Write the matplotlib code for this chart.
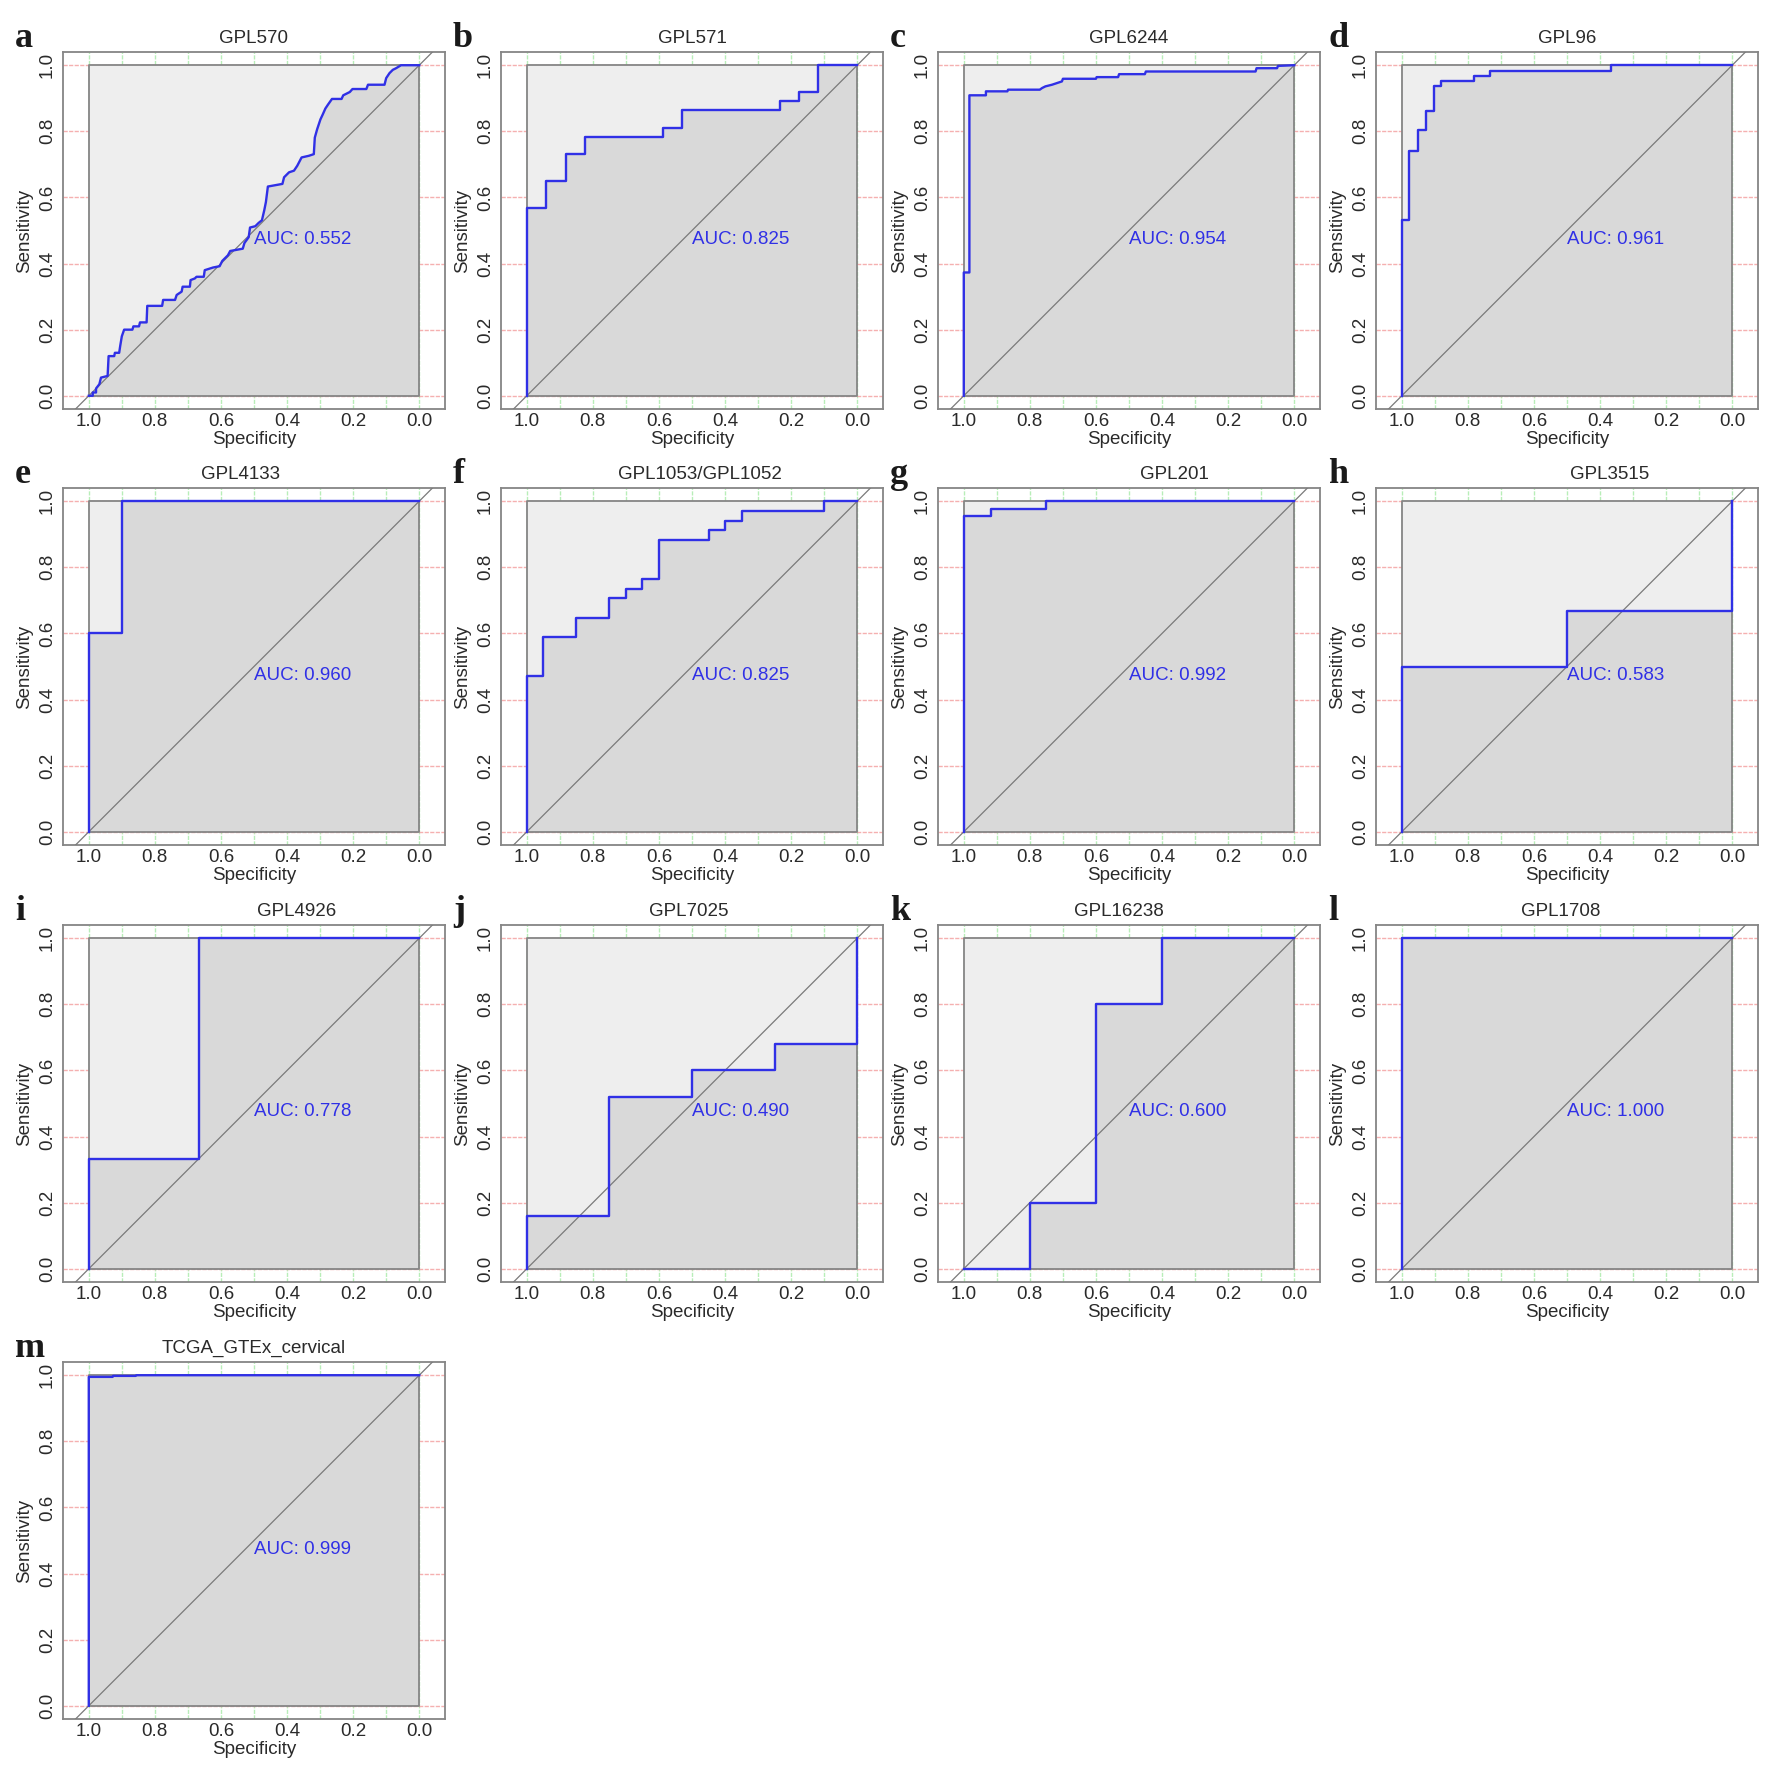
import numpy as np
import matplotlib
matplotlib.use("Agg")
import matplotlib.pyplot as plt

plt.rcParams['font.family'] = ['Liberation Sans', 'DejaVu Sans']

# panel letters, titles, AUC values
letters = list("abcdefghijklm")
titles = ["GPL570", "GPL571", "GPL6244", "GPL96", "GPL4133", "GPL1053/GPL1052",
          "GPL201", "GPL3515", "GPL4926", "GPL7025", "GPL16238", "GPL1708",
          "TCGA_GTEx_cervical"]
auc_values = [0.552, 0.825, 0.954, 0.961, 0.960, 0.825, 0.992, 0.583,
              0.778, 0.490, 0.600, 1.000, 0.999]

# ROC curves (specificity, sensitivity vertices)
spec_a = [1.000, 0.988, 0.988, 0.978, 0.978, 0.968, 0.963, 0.943, 0.940, 0.923, 0.921, 0.908,
          0.905, 0.900, 0.893, 0.868, 0.865, 0.848, 0.845, 0.825, 0.823, 0.778, 0.775, 0.739,
          0.734, 0.719, 0.716, 0.694, 0.692, 0.679, 0.674, 0.652, 0.649, 0.624, 0.604, 0.596,
          0.579, 0.572, 0.534, 0.529, 0.516, 0.512, 0.496, 0.486, 0.476, 0.469, 0.464, 0.458,
          0.414, 0.409, 0.394, 0.379, 0.369, 0.356, 0.334, 0.319, 0.316, 0.309, 0.299, 0.292,
          0.284, 0.276, 0.264, 0.235, 0.230, 0.210, 0.202, 0.160, 0.155, 0.105, 0.100, 0.090,
          0.080, 0.070, 0.055, 0.000]
sens_a = [0.000, 0.000, 0.010, 0.010, 0.022, 0.035, 0.055, 0.060, 0.120, 0.120, 0.130, 0.130,
          0.150, 0.180, 0.200, 0.200, 0.210, 0.210, 0.222, 0.222, 0.272, 0.272, 0.290, 0.290,
          0.305, 0.315, 0.330, 0.330, 0.350, 0.355, 0.360, 0.360, 0.380, 0.388, 0.392, 0.408,
          0.425, 0.438, 0.445, 0.462, 0.480, 0.509, 0.513, 0.523, 0.531, 0.561, 0.586, 0.633,
          0.641, 0.661, 0.676, 0.681, 0.696, 0.721, 0.726, 0.731, 0.781, 0.806, 0.836, 0.851,
          0.869, 0.881, 0.898, 0.898, 0.909, 0.919, 0.928, 0.928, 0.941, 0.941, 0.961, 0.976,
          0.986, 0.991, 1.000, 1.000]

spec_b = [1.0, 1.0, 0.941, 0.941, 0.882, 0.882, 0.824, 0.824, 0.588, 0.588, 0.529, 0.529,
          0.235, 0.235, 0.176, 0.176, 0.118, 0.118, 0.0]
sens_b = [0.0, 0.568, 0.568, 0.649, 0.649, 0.730, 0.730, 0.784, 0.784, 0.811, 0.811, 0.865,
          0.865, 0.892, 0.892, 0.919, 0.919, 1.0, 1.0]

spec_c = [1.000, 1.000, 0.983, 0.983, 0.933, 0.933, 0.868, 0.866, 0.770, 0.763, 0.753, 0.733,
          0.718, 0.703, 0.700, 0.600, 0.598, 0.533, 0.530, 0.452, 0.449, 0.117, 0.114, 0.052,
          0.049, 0.000]
sens_c = [0.000, 0.373, 0.373, 0.909, 0.909, 0.921, 0.921, 0.926, 0.926, 0.931, 0.936, 0.941,
          0.946, 0.951, 0.959, 0.959, 0.964, 0.964, 0.973, 0.973, 0.981, 0.981, 0.991, 0.991,
          0.998, 1.000]

spec_d = [1.0, 1.0, 0.977, 0.977, 0.952, 0.952, 0.927, 0.927, 0.902, 0.902, 0.882, 0.882,
          0.782, 0.782, 0.732, 0.732, 0.367, 0.367, 0.0]
sens_d = [0.0, 0.531, 0.531, 0.741, 0.741, 0.803, 0.803, 0.863, 0.863, 0.938, 0.938, 0.951,
          0.951, 0.968, 0.968, 0.983, 0.983, 1.0, 1.0]

spec_e = [1.0, 1.0, 0.9, 0.9, 0.0]
sens_e = [0.0, 0.6, 0.6, 1.0, 1.0]

spec_f = [1.0, 1.0, 0.95, 0.95, 0.85, 0.85, 0.75, 0.75, 0.70, 0.70, 0.65, 0.65, 0.60, 0.60,
          0.45, 0.45, 0.40, 0.40, 0.35, 0.35, 0.10, 0.10, 0.0]
sens_f = [0.0, 0.471, 0.471, 0.588, 0.588, 0.647, 0.647, 0.706, 0.706, 0.735, 0.735, 0.765,
          0.765, 0.882, 0.882, 0.912, 0.912, 0.941, 0.941, 0.971, 0.971, 1.0, 1.0]

spec_g = [1.0, 1.0, 0.917, 0.917, 0.75, 0.75, 0.0]
sens_g = [0.0, 0.955, 0.955, 0.977, 0.977, 1.0, 1.0]

spec_h = [1.0, 1.0, 0.5, 0.5, 0.0, 0.0]
sens_h = [0.0, 0.5, 0.5, 0.667, 0.667, 1.0]

spec_i = [1.0, 1.0, 0.667, 0.667, 0.0]
sens_i = [0.0, 0.333, 0.333, 1.0, 1.0]

spec_j = [1.0, 1.0, 0.75, 0.75, 0.5, 0.5, 0.25, 0.25, 0.0, 0.0]
sens_j = [0.0, 0.16, 0.16, 0.52, 0.52, 0.60, 0.60, 0.68, 0.68, 1.0]

spec_k = [1.0, 0.8, 0.8, 0.6, 0.6, 0.4, 0.4, 0.0]
sens_k = [0.0, 0.0, 0.2, 0.2, 0.8, 0.8, 1.0, 1.0]

spec_l = [1.0, 1.0, 0.0]
sens_l = [0.0, 1.0, 1.0]

spec_m = [1.0, 1.0, 0.928, 0.926, 0.858, 0.856, 0.0]
sens_m = [0.0, 0.995, 0.995, 0.998, 0.998, 1.0, 1.0]

specs = [spec_a, spec_b, spec_c, spec_d, spec_e, spec_f, spec_g, spec_h, spec_i, spec_j,
         spec_k, spec_l, spec_m]
senss = [sens_a, sens_b, sens_c, sens_d, sens_e, sens_f, sens_g, sens_h, sens_i, sens_j,
         sens_k, sens_l, sens_m]

tick_vals = [0.0, 0.2, 0.4, 0.6, 0.8, 1.0]
tick_labels = ["0.0", "0.2", "0.4", "0.6", "0.8", "1.0"]

# layout (pixels)
W, H = 1772, 1773
lefts = [63, 501, 938, 1376]
tops = [52, 488, 925, 1362]
aw, ah = 382, 357
title_shift = [0, 0, 0, 0, -13, 8, 45, 43, 43, -3, -10, -6, 0]

blue = "#3030E6"
frame_gray = "#858585"
txt = "#2A2A2A"
fs = 13.5

fig = plt.figure(figsize=(W / 100, H / 100), dpi=100)

for n in range(len(titles)):
    row, col = divmod(n, 4)
    L, T = lefts[col], tops[row]
    ax = fig.add_axes([L / W, 1 - (T + ah) / H, aw / W, ah / H])
    ax.set_xlim(1.078, -0.078)
    ax.set_ylim(-0.04, 1.04)

    # grid
    ax.vlines(np.arange(0, 1.01, 0.1), -0.04, 1.04, colors="#B8EEB8", lw=1.0,
              linestyles=(0, (3, 1)), zorder=0)
    ax.hlines(tick_vals, -0.078, 1.078, colors="#F5B0B0", lw=1.0,
              linestyles=(0, (3, 1)), zorder=0)

    # max auc polygon and auc polygon
    ax.fill([1, 1, 0, 0], [0, 1, 1, 0], color="#EEEEEE", lw=0, zorder=1)
    ax.fill(specs[n] + [0.0], senss[n] + [0.0], color="#D9D9D9", lw=0, zorder=2)
    ax.plot([1, 1, 0, 0, 1], [0, 1, 1, 0, 0], color=frame_gray, lw=1.3, zorder=3)
    ax.axline((1, 0), (0, 1), color="#7A7A7A", lw=0.9, zorder=4)
    ax.plot(specs[n], senss[n], color=blue, lw=1.7, zorder=5)
    ax.text(0.5, 0.5, "AUC: %.3f" % auc_values[n], ha="left", va="top",
            color=blue, fontsize=fs, zorder=6)

    ax.set_xticks(tick_vals[::-1])
    ax.set_xticklabels(tick_labels[::-1])
    ax.set_yticks(tick_vals)
    ax.set_yticklabels(tick_labels, rotation=90, va="center")
    ax.tick_params(axis="x", length=0, pad=3, labelsize=fs, labelcolor=txt)
    ax.tick_params(axis="y", length=0, pad=5, labelsize=fs, labelcolor=txt)
    ax.set_xlabel("Specificity", fontsize=fs, color=txt)
    ax.set_ylabel("Sensitivity", fontsize=fs, color=txt)
    ax.xaxis.set_label_coords(0.5, -0.062)
    ax.yaxis.set_label_coords(-0.079, 0.5)
    for s in ax.spines.values():
        s.set_color(frame_gray)
        s.set_linewidth(1.3)

    fig.text((L + aw / 2 + title_shift[n]) / W, 1 - (T - 9) / H, titles[n],
             ha="center", va="baseline", fontsize=fs, color=txt)
    fig.text((L - 48) / W, 1 - (T - 5) / H, letters[n], ha="left", va="baseline",
             fontsize=26, fontweight="bold", family="Liberation Serif", color="#1A1A1A")

fig.savefig("out.png", dpi=100)
